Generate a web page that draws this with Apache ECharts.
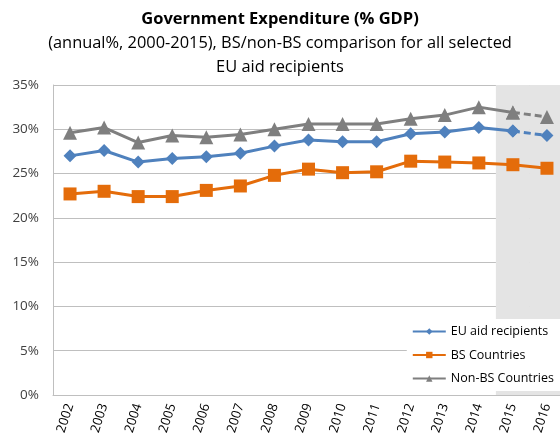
<!DOCTYPE html>
<html>
<head>
<meta charset="utf-8">
<script src="https://cdn.jsdelivr.net/npm/echarts@6/dist/echarts.min.js"></script>
<style>
  html, body { margin: 0; padding: 0; background: #fff; }
  #main { width: 560px; height: 437px; }
</style>
</head>
<body>
<div id="main"></div>
<script>
// 年份
const years = ['2002', '2003', '2004', '2005', '2006', '2007', '2008', '2009',
    '2010', '2011', '2012', '2013', '2014', '2015', '2016'];

// 各组数值 (% GDP)
const euAid = [27.0, 27.6, 26.3, 26.7, 26.9, 27.3, 28.1, 28.8, 28.6, 28.6, 29.5, 29.7, 30.2, 29.8, 29.3];
const bsCountries = [22.7, 23.0, 22.4, 22.4, 23.1, 23.6, 24.8, 25.5, 25.1, 25.2, 26.4, 26.3, 26.2, 26.0, 25.6];
const nonBs = [29.6, 30.2, 28.5, 29.3, 29.1, 29.4, 30.0, 30.6, 30.6, 30.6, 31.2, 31.6, 32.5, 31.9, 31.4];

// 预测年份 (灰色背景 + 虚线)
const forecastYears = ['2015', '2016'];

const colors = {
    eu: '#4f81bd',
    bs: '#e46c0a',
    non: '#7f7f7f',
    band: '#e4e4e4'
};

const chart = echarts.init(document.getElementById('main'));

const firstForecast = years.indexOf(forecastYears[0]);

// 虚线部分: 只保留预测区间的点
function tail(arr) {
    return arr.map((v, i) => (i >= firstForecast ? v : null));
}
// 实线部分: 预测区间只保留第一个点
function head(arr) {
    return arr.map((v, i) => (i <= firstForecast ? v : null));
}

function lineSeries(name, data, color, symbol, size, dashed) {
    return {
        name: name,
        type: 'line',
        data: data,
        symbol: symbol,
        symbolSize: size,
        z: 3,
        lineStyle: { color: color, width: 3, type: dashed ? [7, 4] : 'solid' },
        itemStyle: { color: color }
    };
}

// 灰色背景 (整列覆盖)
const bandData = years.map(y => (forecastYears.includes(y) ? 35 : null));

const option = {
    backgroundColor: '#fff',
    animation: false,
    title: {
        text: 'Government Expenditure (% GDP)',
        subtext: '(annual%, 2000-2015), BS/non-BS comparison for all selected\nEU aid recipients',
        left: 'center',
        top: 6,
        itemGap: 4,
        textStyle: {
            fontFamily: 'Open Sans',
            fontSize: 16.5,
            fontWeight: 'bold',
            color: '#000'
        },
        subtextStyle: {
            fontFamily: 'Open Sans',
            fontSize: 16.4,
            color: '#000',
            lineHeight: 23.5
        }
    },
    legend: {
        data: ['EU aid recipients', 'BS Countries', 'Non-BS Countries'],
        orient: 'vertical',
        right: 0,
        top: 319,
        itemWidth: 33,
        itemHeight: 8,
        itemGap: 10.5,
        padding: [6, 6, 6, 5],
        backgroundColor: '#fff',
        textStyle: { fontFamily: 'Open Sans', fontSize: 12.5, color: '#000' }
    },
    grid: {
        left: 53,
        top: 85,
        width: 511,
        bottom: 42,
        outerBoundsMode: 'none'
    },
    xAxis: {
        type: 'category',
        data: years,
        axisLine: { lineStyle: { color: '#bfbfbf', width: 1 } },
        axisTick: { show: false },
        axisLabel: {
            rotate: 72,
            margin: 9,
            fontFamily: 'Open Sans',
            fontSize: 13,
            color: '#000'
        }
    },
    yAxis: {
        type: 'value',
        min: 0,
        max: 35,
        interval: 5,
        axisLine: { show: true, lineStyle: { color: '#bfbfbf' } },
        axisTick: { show: false },
        splitLine: { lineStyle: { color: '#bfbfbf' } },
        axisLabel: {
            formatter: '{value}%',
            margin: 14,
            fontFamily: 'Open Sans',
            fontSize: 13.5,
            color: '#404040'
        }
    },
    series: [
        {
            name: 'forecast',
            type: 'bar',
            data: bandData,
            barCategoryGap: '0%',
            silent: true,
            z: 0,
            itemStyle: { color: colors.band }
        },
        lineSeries('EU aid recipients', head(euAid), colors.eu, 'diamond', 13, false),
        lineSeries('BS Countries', bsCountries, colors.bs, 'rect', 13, false),
        lineSeries('Non-BS Countries', head(nonBs), colors.non, 'triangle', 14, false),
        lineSeries('EU aid recipients', tail(euAid), colors.eu, 'diamond', 13, true),
        lineSeries('Non-BS Countries', tail(nonBs), colors.non, 'triangle', 14, true)
    ]
};

chart.setOption(option);
</script>
</body>
</html>
